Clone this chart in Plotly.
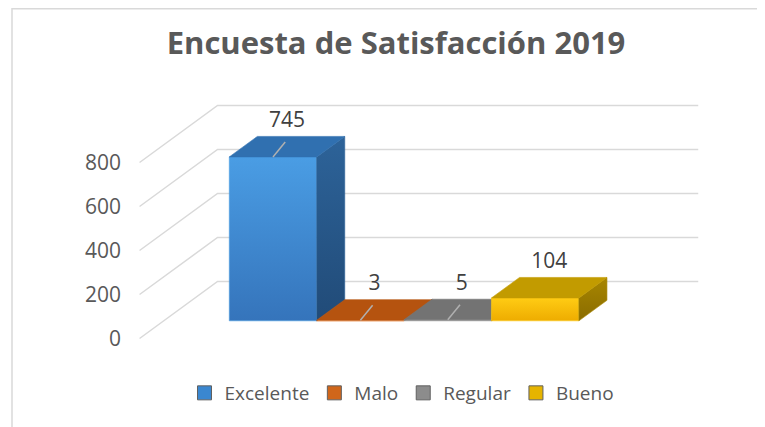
import plotly.graph_objects as go

categorias = ["Excelente", "Malo", "Regular", "Bueno"]
valores = [745, 3, 5, 104]
ticks_y = [0, 200, 400, 600, 800]

# colores de cada cara de la columna 3D
frente_sup = ["#4a9de4", "#e57c31", "#9c9c9c", "#ffcc14"]
frente_inf = ["#3574bb", "#c85f16", "#7e7e7e", "#eeac00"]
tapa = ["#3070b0", "#b5530f", "#737373", "#c29b00"]
lateral_sup = ["#2d6399", "#94430c", "#5e5e5e", "#a88600"]
lateral_inf = ["#214b78", "#7a370a", "#4a4a4a", "#8a6c00"]
leyenda_col = ["#3a87d0", "#d0661a", "#8c8c8c", "#e6b400"]
con_guia = [True, True, True, False]

GRIS = "#595959"
FUENTE = "Open Sans"

# geometria de la proyeccion oblicua (pixeles de la figura;
# la pagina añade 8 px de margen arriba y a la izquierda)
W, H = 757, 419
ML = 114
X0, CW = 240.8, 87.4      # px de x=0 en el frente del piso, px por categoria
Y0, SY = 330.5, 0.22      # px del valor 0 en el frente, px por unidad
DX = 78 / CW              # desplazamiento de profundidad completo (x)
DY = 57 / SY              # desplazamiento de profundidad completo (y)
D0, D1 = 0.31, 0.67       # profundidad frontal y trasera de las columnas
PISO = (-1.25, 4.25)


def proy(x, v, d):
    return x + d * DX, v + d * DY


def cara(puntos):
    xs, ys = zip(*[proy(*p) for p in puntos])
    return list(xs) + [xs[0]], list(ys) + [ys[0]]


def px_x(p):
    return (p - ML) / (W - ML)


fig = go.Figure()

# lineas de division: pared lateral + pared del fondo
for v in ticks_y:
    x1, y1 = proy(PISO[0], v, 0)
    x2, y2 = proy(PISO[0], v, 1)
    x3, y3 = proy(PISO[1], v, 1)
    fig.add_trace(go.Scatter(x=[x1, x2, x3], y=[y1, y2, y3], mode="lines",
                             line=dict(color="#d9d9d9", width=1.5),
                             hoverinfo="skip", showlegend=False))

# columnas
for i, v in enumerate(valores):
    a, b = i - 0.5, i + 0.5
    caras = [
        (cara([(a, 0, D0), (b, 0, D0), (b, v, D0), (a, v, D0)]), frente_inf[i], frente_sup[i]),
        (cara([(b, 0, D0), (b, 0, D1), (b, v, D1), (b, v, D0)]), lateral_inf[i], lateral_sup[i]),
        (cara([(a, v, D0), (b, v, D0), (b, v, D1), (a, v, D1)]), tapa[i], tapa[i]),
    ]
    for (xs, ys), c_inf, c_sup in caras:
        fig.add_trace(go.Scatter(
            x=xs, y=ys, mode="lines", fill="toself",
            fillgradient=dict(type="vertical", colorscale=[[0, c_inf], [1, c_sup]]),
            line=dict(width=0.6, color=c_sup),
            hoverinfo="skip", showlegend=False))

    if con_guia[i]:
        gx, gy = proy(i, v, D0)
        fig.add_trace(go.Scatter(x=[gx, gx + 0.14], y=[gy, gy + 68], mode="lines",
                                 line=dict(color="#b0b0b0", width=1.5),
                                 hoverinfo="skip", showlegend=False))

# etiquetas de datos
ex, ey = zip(*[proy(i, v, D1) for i, v in enumerate(valores)])
fig.add_trace(go.Scatter(
    x=[x - (D1 - 0.49) * DX for x in ex], y=[y + 20 for y in ey],
    mode="text", text=[str(v) for v in valores], textposition="top center",
    textfont=dict(family=FUENTE, size=21, color="#404040"),
    cliponaxis=False, hoverinfo="skip", showlegend=False))

# entradas de la leyenda
for cat, col in zip(categorias, leyenda_col):
    fig.add_trace(go.Scatter(x=[None], y=[None], mode="markers", name=cat,
                             marker=dict(symbol="square", size=14, color=col,
                                         line=dict(width=1, color="#606060"))))

# borde del area del grafico
fig.add_shape(type="line", xref="paper", yref="paper",
              x0=px_x(4), x1=px_x(4), y0=0, y1=1,
              line=dict(color="#d9d9d9", width=1.5))
fig.add_shape(type="line", xref="paper", yref="paper",
              x0=px_x(4), x1=1, y0=1 - 0.8 / H, y1=1 - 0.8 / H,
              line=dict(color="#d9d9d9", width=1.5))

fig.update_layout(
    width=W, height=H,
    margin=dict(l=ML, r=0, t=0, b=0),
    plot_bgcolor="white", paper_bgcolor="white",
    title=dict(text="Encuesta de Satisfacción 2019", xref="container", yref="container",
               x=388 / W, y=1 - 35 / H, xanchor="center", yanchor="middle",
               font=dict(family=FUENTE, size=31, color=GRIS, weight="bold")),
    legend=dict(orientation="h", xref="paper", yref="paper",
                x=px_x(394), y=1 - 385 / H, xanchor="center", yanchor="middle",
                font=dict(family=FUENTE, size=19, color=GRIS), itemwidth=30,
                bgcolor="rgba(0,0,0,0)"),
    showlegend=True,
)
fig.update_xaxes(visible=False, range=[(ML - X0) / CW, (W - X0) / CW])
fig.update_yaxes(range=[(Y0 - H) / SY, Y0 / SY], tickvals=ticks_y,
                 showgrid=False, zeroline=False, showline=False, ticks="",
                 automargin=False,
                 tickfont=dict(family=FUENTE, size=21, color=GRIS))

fig.write_html("out.html")
